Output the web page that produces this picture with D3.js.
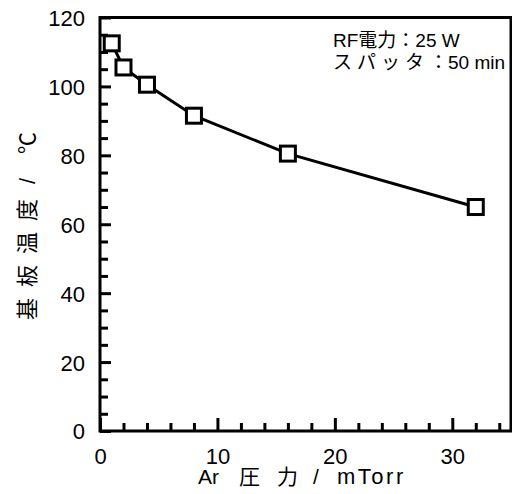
<!DOCTYPE html>
<html><head><meta charset="utf-8">
<script src="https://cdn.jsdelivr.net/npm/d3@7"></script>
<style>body{margin:0;background:#fff}svg{display:block}</style>
</head><body>
<svg id="c" width="512" height="494"></svg>
<script>
const pressure = [1, 2, 4, 8, 16, 32];
const temperature = [112.5, 105.5, 100.5, 91.5, 80.5, 65];
const xTickValues = [0, 10, 20, 30];
const yTickValues = [0, 20, 40, 60, 80, 100, 120];
const xLabelParts = ["Ar", "圧", "力", "/", "mTorr"];
const yLabelParts = ["基", "板", "温", "度", "/", "℃"];
const noteLine1 = "RF電力：25 W";
const noteLine2 = ["スパッタ", "：50 min"];

const svg = d3.select("#c");
const L = 100, R = 511, T = 17.5, B = 431;
const x = d3.scaleLinear().domain([0, 35]).range([L, R]);
const y = d3.scaleLinear().domain([0, 120]).range([B, T]);
const font = "'Liberation Sans', Arial, 'Noto Sans CJK JP', sans-serif";

const xMinor = d3.range(2, 35, 2).filter(v => v % 10 !== 0);
const yMinor = d3.range(5, 120, 5).filter(v => v % 20 !== 0);

const gx = svg.append("g").attr("transform", `translate(0,${B})`);
gx.call(d3.axisBottom(x).tickValues(xMinor).tickSize(-8).tickFormat(""));
gx.append("g").call(d3.axisBottom(x).tickValues(xTickValues).tickSize(-13).tickPadding(17).tickFormat(d3.format("d")));
gx.selectAll(".domain").remove();
gx.selectAll("line").attr("stroke", "#000").attr("stroke-width", 3);
gx.selectAll("text").attr("font-family", font).attr("font-size", 22).attr("fill", "#000");

const gy = svg.append("g").attr("transform", `translate(${L},0)`);
gy.call(d3.axisLeft(y).tickValues(yMinor).tickSize(-8).tickFormat(""));
gy.append("g").call(d3.axisLeft(y).tickValues(yTickValues).tickSize(-11).tickPadding(15).tickFormat(d3.format("d")));
gy.selectAll(".domain").remove();
gy.selectAll("line").attr("stroke", "#000").attr("stroke-width", 3);
gy.selectAll("text").attr("font-family", font).attr("font-size", 22).attr("fill", "#000").attr("dy", "0.36em");

svg.append("rect").attr("x", L).attr("y", T).attr("width", R - L).attr("height", B - T)
  .attr("fill", "none").attr("stroke", "#000").attr("stroke-width", 3);

const pts = pressure.map((p, i) => [p, temperature[i]]);
svg.append("path").datum(pts)
  .attr("d", d3.line().x(d => x(d[0])).y(d => y(d[1])))
  .attr("fill", "none").attr("stroke", "#000").attr("stroke-width", 3);

const s = 15;
svg.selectAll("rect.m").data(pts).enter().append("rect").attr("class", "m")
  .attr("x", d => x(d[0]) - s / 2).attr("y", d => y(d[1]) - s / 2)
  .attr("width", s).attr("height", s)
  .attr("fill", "#fff").attr("stroke", "#000").attr("stroke-width", 3);

// annotation
svg.append("text").attr("x", 333).attr("y", 46.5)
  .attr("font-family", font).attr("font-size", 19).attr("fill", "#000").text(noteLine1);
const n2 = svg.append("text").attr("x", 333).attr("y", 68.5)
  .attr("font-family", font).attr("font-size", 19).attr("fill", "#000");
n2.append("tspan").attr("letter-spacing", 5).text(noteLine2[0]);
n2.append("tspan").text(noteLine2[1]);

// x axis label
const xPos = [198, 239, 277, 313, 337];
const xl = svg.append("text").attr("y", 484)
  .attr("font-family", font).attr("font-size", 21).attr("fill", "#000");
xLabelParts.forEach((t, i) => {
  const ts = xl.append("tspan").attr("x", xPos[i]).text(t);
  if (t === "mTorr") ts.attr("font-size", 22).attr("letter-spacing", 2.5);
});

// y axis label (rotated)
const yPos = [320, 287, 254, 221, 184, 154];
const yl = svg.append("text").attr("transform", "translate(35,0) rotate(-90)")
  .attr("font-family", font).attr("font-size", 22).attr("fill", "#000");
yLabelParts.forEach((t, i) => yl.append("tspan").attr("x", -yPos[i]).text(t));
</script>
</body></html>
